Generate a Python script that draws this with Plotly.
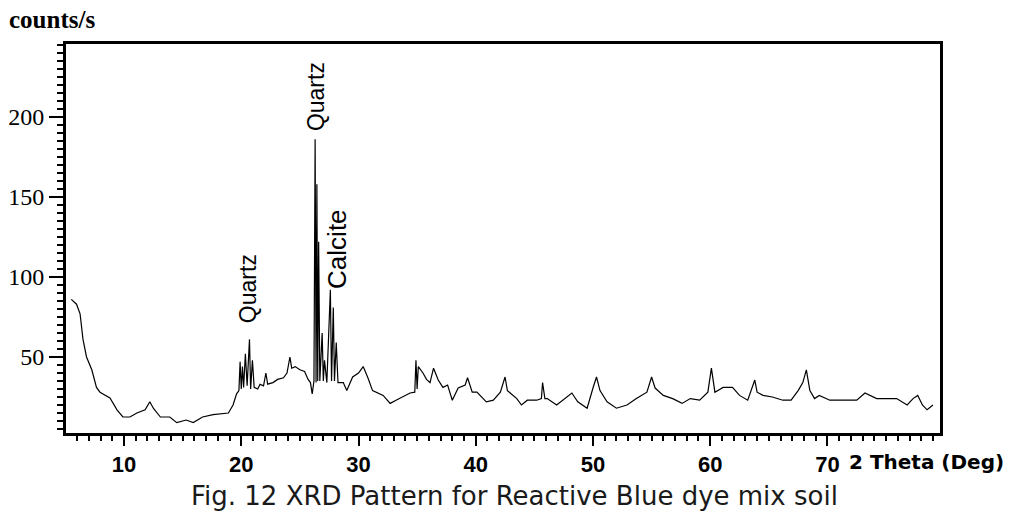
import plotly.graph_objects as go

# 2-theta (deg) and intensity (counts/s)
two_theta = [
    5.5, 5.95, 6.25, 6.5, 6.8, 7.25, 7.65, 7.95, 8.8, 9.4, 9.9, 10.5, 11.1, 11.8, 12.2, 12.5,
    13.1, 13.9, 14.5, 15.3, 15.9, 16.7, 17.6, 18.9, 19.3, 19.6, 19.8, 19.9, 20.0, 20.1,
    20.2, 20.35, 20.5, 20.7, 20.8, 20.95, 21.1, 21.4, 21.6, 21.9, 22.1, 22.25, 22.7, 23.1,
    23.6, 23.9, 24.15, 24.3, 24.6, 25.0, 25.4, 25.7, 25.9, 26.05, 26.2, 26.3, 26.38, 26.45,
    26.52, 26.6, 26.7, 26.9, 27.0, 27.1, 27.3, 27.6, 27.7, 27.85, 27.95, 28.1, 28.25, 28.7,
    29.0, 29.5, 30.0, 30.4, 30.8, 31.2, 32.1, 32.7, 33.2, 33.8, 34.4, 34.8, 34.9, 35.0,
    35.1, 35.5, 35.8, 36.1, 36.4, 36.8, 37.2, 37.6, 38.0, 38.5, 39.1, 39.3, 39.7, 40.1,
    40.9, 41.5, 42.1, 42.5, 42.7, 43.5, 43.9, 44.4, 45.2, 45.6, 45.7, 45.9, 46.1, 46.9,
    47.4, 48.2, 48.7, 49.5, 50.0, 50.3, 50.6, 51.2, 52.0, 52.9, 53.7, 54.6, 55.0, 55.3,
    56.0, 56.8, 57.6, 58.3, 59.1, 59.8, 60.1, 60.4, 61.1, 61.9, 62.5, 63.2, 63.8, 64.0,
    64.5, 65.3, 66.2, 66.9, 67.5, 67.9, 68.2, 68.5, 68.9, 69.3, 70.2, 71.3, 72.5, 73.2,
    74.2, 75.9, 76.8, 77.3, 77.7, 78.1, 78.5, 79.0,
]
counts = [
    86, 83, 77, 61, 50, 42, 31, 28, 24.4, 17, 12.5, 12.5, 15, 17, 22, 18,
    12.5, 12.5, 9, 10.6, 9, 12.5, 14, 15, 20, 27, 29, 47, 30, 44,
    31, 52, 32, 61, 30, 48, 31, 30, 33, 32, 40, 33, 34, 36,
    37, 40, 50, 43, 44, 42, 41, 36, 34, 27, 35, 186, 34, 158,
    35, 122, 35, 65, 35, 48, 34, 92, 35, 81, 35, 59, 34, 34,
    29, 37.5, 40, 44, 37, 29, 26, 21, 23, 25, 27.5, 28, 48, 30,
    44, 40, 36, 34, 43, 35.6, 31, 32.5, 23, 30.6, 32.5, 37, 28, 28,
    22, 23, 28, 37.5, 29, 24, 20, 23, 23, 24, 34, 24, 24, 20,
    23, 27.5, 22, 18, 30.6, 37.5, 29, 22, 18, 20, 24, 28, 37.5, 30.6,
    26, 24, 21, 24, 23, 28, 43, 28, 31, 31, 26, 23, 35.6, 28,
    26, 25, 23, 23, 29, 34, 42, 29, 24, 26, 23, 23, 23, 27.5,
    24, 24, 20, 24, 26, 20, 17, 20,
]

x_tick_vals = [10, 20, 30, 40, 50, 60, 70]
y_tick_vals = [50, 100, 150, 200]

peak_labels = ["Quartz", "Quartz", "Calcite"]
peak_label_x = [20.57, 26.37, 28.16]
peak_label_y = [93, 213, 117.5]
peak_label_size = [23, 23, 26]

fig = go.Figure()
fig.add_trace(go.Scatter(
    x=two_theta, y=counts, mode="lines",
    line=dict(color="black", width=1.2),
    showlegend=False, hoverinfo="skip",
))

for t, px, py, fs in zip(peak_labels, peak_label_x, peak_label_y, peak_label_size):
    fig.add_annotation(
        x=px, y=py, xref="x", yref="y", text=t, textangle=-90,
        showarrow=False, xanchor="center", yanchor="middle",
        font=dict(family="Liberation Sans", size=fs, color="black"),
    )

fig.add_annotation(
    x=-0.068, y=1.062, xref="paper", yref="paper", text="counts/s",
    showarrow=False, xanchor="left", yanchor="middle",
    font=dict(family="Liberation Serif", size=25, color="black", weight="bold"),
)
fig.add_annotation(
    x=0.894, y=-0.0746, xref="paper", yref="paper", text="2 Theta (Deg)",
    showarrow=False, xanchor="left", yanchor="middle",
    font=dict(family="DejaVu Sans", size=20, color="black", weight="bold"),
)
fig.add_annotation(
    x=0.5137, y=-0.162, xref="paper", yref="paper",
    text="Fig. 12 XRD Pattern for Reactive Blue dye mix soil",
    showarrow=False, xanchor="center", yanchor="middle",
    font=dict(family="DejaVu Sans", size=26, color="#1a1a1a"),
)

fig.update_xaxes(
    range=[5.05, 79.6], tickmode="array", tickvals=x_tick_vals,
    ticks="outside", ticklen=10, tickwidth=2, tickcolor="black",
    minor=dict(dtick=1, tick0=0, ticks="outside", ticklen=5, tickwidth=1.5, tickcolor="black"),
    showline=True, linewidth=3, linecolor="black", mirror=True,
    showgrid=False, zeroline=False, automargin=False,
    tickfont=dict(family="Liberation Sans", size=22, color="black", weight="bold"),
)
fig.update_yaxes(
    range=[2.5, 245.6], tickmode="array", tickvals=y_tick_vals,
    ticks="outside", ticklen=14, tickwidth=2, tickcolor="black",
    minor=dict(dtick=5, tick0=0, ticks="outside", ticklen=6, tickwidth=1.5, tickcolor="black"),
    showline=True, linewidth=3, linecolor="black", mirror=True,
    showgrid=False, zeroline=False, automargin=False,
    tickfont=dict(family="Liberation Serif", size=24, color="black"),
)

fig.update_layout(
    width=1009, height=525,
    margin=dict(l=66, r=69, t=44, b=92),
    paper_bgcolor="white", plot_bgcolor="white",
)

fig.write_html("out.html")
